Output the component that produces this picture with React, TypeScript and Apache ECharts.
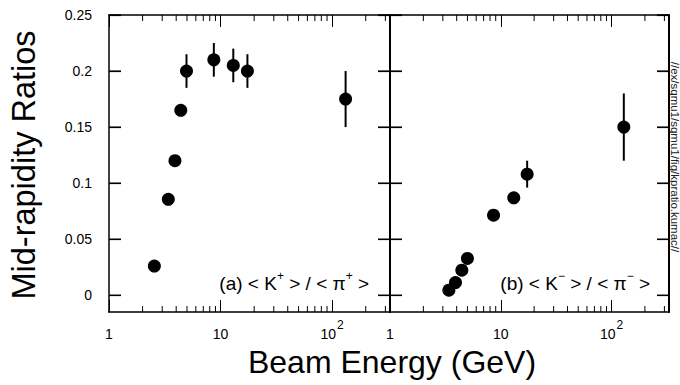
import React, { useEffect, useRef } from "react";
import * as echarts from "echarts";

// Panel (a): K+/pi+
const energyA = [2.55, 3.4, 3.9, 4.4, 4.95, 8.7, 13.0, 17.4, 132];
const ratioA = [0.026, 0.0855, 0.12, 0.165, 0.2, 0.21, 0.205, 0.2, 0.175];
const errA = [0, 0, 0, 0, 0.015, 0.015, 0.015, 0.015, 0.025];

// Panel (b): K-/pi-
const energyB = [3.4, 3.9, 4.45, 5.0, 8.6, 13.1, 17.3, 129];
const ratioB = [0.0045, 0.0113, 0.0223, 0.0328, 0.0714, 0.0869, 0.108, 0.15];
const errB = [0, 0, 0, 0, 0, 0, 0.012, 0.03];

const yTicks = [0, 0.05, 0.1, 0.15, 0.2, 0.25];
const xMinorTicks = [2, 3, 4, 5, 6, 7, 8, 9, 20, 30, 40, 50, 60, 70, 80, 90, 200, 300];
const xLabels = [1, 10, 100];

const X_MIN = 1;
const X_MAX = 330;
const Y_MIN = -0.015;
const Y_MAX = 0.25;

const FONT = "'Liberation Sans', Arial, Helvetica, sans-serif";

export default function App() {
  const ref = useRef<HTMLDivElement>(null);
  useEffect(() => {
    document.body.style.margin = "0";
    const chart = echarts.init(ref.current!, null, { renderer: "svg" });

    const grids = [
      { left: 109, top: 15, width: 281, height: 297 },
      { left: 390, top: 15, width: 280, height: 297 },
    ];

    const xAxes: any[] = [];
    const yAxes: any[] = [];
    [0, 1].forEach((g) => {
      xAxes.push({
        type: "log",
        logBase: 10,
        gridIndex: g,
        position: "bottom",
        min: X_MIN,
        max: X_MAX,
        axisLine: { show: true, onZero: false, lineStyle: { color: "#000", width: 1.5 } },
        axisTick: { show: true, inside: true, length: 12, lineStyle: { color: "#000", width: 1 } },
        splitLine: { show: false },
        axisLabel: {
          show: true,
          margin: 7,
          color: "#000",
          fontFamily: FONT,
          fontSize: 14,
          lineHeight: 30,
          showMaxLabel: false,
          formatter: (v: number) => {
            if (!xLabels.includes(Math.round(v))) return "";
            if (Math.round(v) === 100) return "10{sup|2}";
            return String(Math.round(v));
          },
          rich: {
            sup: { fontSize: 12, lineHeight: 14, fontFamily: FONT, color: "#000", verticalAlign: "top", padding: [0, 0, 0, 1] },
          },
        },
      });
      xAxes.push({
        type: "log",
        logBase: 10,
        gridIndex: g,
        position: "top",
        min: X_MIN,
        max: X_MAX,
        axisLine: { show: true, onZero: false, lineStyle: { color: "#000", width: 1.5 } },
        axisTick: { show: true, inside: true, length: 12, lineStyle: { color: "#000", width: 1 } },
        splitLine: { show: false },
        axisLabel: { show: false },
      });
      yAxes.push({
        type: "value",
        gridIndex: g,
        position: "left",
        min: Y_MIN,
        max: Y_MAX,
        axisLine: { show: true, onZero: false, lineStyle: { color: "#000", width: g === 1 ? 2 : 1.5 } },
        axisTick: { show: true, inside: true, length: 12, customValues: yTicks, lineStyle: { color: "#000", width: 1.2 } },
        splitLine: { show: false },
        axisLabel: {
          show: g === 0,
          customValues: yTicks,
          margin: 17,
          color: "#000",
          fontFamily: FONT,
          fontSize: 14,
        },
      });
      yAxes.push({
        type: "value",
        gridIndex: g,
        position: "right",
        min: Y_MIN,
        max: Y_MAX,
        axisLine: { show: true, onZero: false, lineStyle: { color: "#000", width: 2 } },
        axisTick: { show: true, inside: true, length: 12, customValues: yTicks, lineStyle: { color: "#000", width: 1.2 } },
        splitLine: { show: false },
        axisLabel: { show: true, customValues: yTicks, formatter: () => "" },
      });
    });

    const minorSeries = (g: number) => ({
      type: "custom",
      xAxisIndex: g * 2,
      yAxisIndex: g * 2,
      clip: false,
      silent: true,
      data: xMinorTicks.map((v) => [v, 0]),
      encode: { x: 0, y: 1 },
      renderItem: (params: any, api: any) => {
        const x = api.coord([api.value(0), 0])[0];
        const cs = params.coordSys;
        const yb = cs.y + cs.height;
        return {
          type: "group",
          children: [
            { type: "line", shape: { x1: x, y1: yb, x2: x, y2: yb - 6 }, style: { stroke: "#000", lineWidth: 1 } },
            { type: "line", shape: { x1: x, y1: cs.y, x2: x, y2: cs.y + 6 }, style: { stroke: "#000", lineWidth: 1 } },
          ],
        };
      },
    });

    const yTickSeries = (g: number) => ({
      type: "custom",
      xAxisIndex: g * 2,
      yAxisIndex: g * 2,
      clip: false,
      silent: true,
      data: yTicks.map((v) => [2, v]),
      encode: { x: 0, y: 1 },
      renderItem: (params: any, api: any) => {
        const y = api.coord([2, api.value(1)])[1];
        const cs = params.coordSys;
        const xr = cs.x + cs.width;
        return {
          type: "group",
          children: [
            { type: "line", shape: { x1: cs.x, y1: y, x2: cs.x + 12, y2: y }, style: { stroke: "#000", lineWidth: 1.2 } },
            { type: "line", shape: { x1: xr, y1: y, x2: xr - 12, y2: y }, style: { stroke: "#000", lineWidth: 1.2 } },
          ],
        };
      },
    });

    const errSeries = (g: number, xs: number[], ys: number[], es: number[]) => ({
      type: "custom",
      xAxisIndex: g * 2,
      yAxisIndex: g * 2,
      clip: false,
      silent: true,
      z: 2,
      data: xs.map((x, i) => [x, ys[i], es[i]]),
      encode: { x: 0, y: 1 },
      renderItem: (params: any, api: any) => {
        const x = api.value(0);
        const y = api.value(1);
        const e = api.value(2);
        if (!e) return null;
        const p1 = api.coord([x, y - e]);
        const p2 = api.coord([x, y + e]);
        return {
          type: "line",
          shape: { x1: p1[0], y1: p1[1], x2: p2[0], y2: p2[1] },
          style: { stroke: "#000", lineWidth: 2 },
        };
      },
    });

    const scatterSeries = (g: number, xs: number[], ys: number[]) => ({
      type: "scatter",
      xAxisIndex: g * 2,
      yAxisIndex: g * 2,
      symbol: "circle",
      symbolSize: 13,
      z: 3,
      itemStyle: { color: "#000", opacity: 1 },
      data: xs.map((x, i) => [x, ys[i]]),
    });

    const annStyle = (text: string) => ({
      text,
      fontFamily: FONT,
      fontSize: 19,
      lineHeight: 26,
      fill: "#000",
      align: "right",
      verticalAlign: "middle",
      rich: { sup: { fontSize: 12, lineHeight: 14, fontFamily: FONT, fill: "#000", verticalAlign: "top" } },
    });

    chart.setOption({
      animation: false,
      backgroundColor: "#fff",
      grid: grids,
      xAxis: xAxes,
      yAxis: yAxes,
      series: [
        minorSeries(0),
        minorSeries(1),
        errSeries(0, energyA, ratioA, errA),
        errSeries(1, energyB, ratioB, errB),
        scatterSeries(0, energyA, ratioA),
        scatterSeries(1, energyB, ratioB),
        yTickSeries(0),
        yTickSeries(1),
      ],
      graphic: [
        {
          type: "text",
          x: 24,
          y: 165,
          rotation: Math.PI / 2,
          style: {
            text: "Mid-rapidity Ratios",
            fontFamily: FONT,
            fontSize: 32.5,
            fill: "#000",
            align: "center",
            verticalAlign: "middle",
          },
        },
        {
          type: "text",
          x: 392,
          y: 362,
          style: {
            text: "Beam Energy (GeV)",
            fontFamily: FONT,
            fontSize: 32,
            fill: "#000",
            align: "center",
            verticalAlign: "middle",
          },
        },
        { type: "text", x: 369, y: 283, style: annStyle("(a) < K{sup|+} > / < π{sup|+} >") },
        { type: "text", x: 650, y: 283, style: annStyle("(b) < K{sup|−} > / < π{sup|−} >") },
        {
          type: "text",
          x: 675,
          y: 157,
          rotation: -Math.PI / 2,
          style: {
            text: "//ex/sqmu1/sqmu1/fig/kpratio.kumac//",
            fontFamily: FONT,
            fontSize: 11.5,
            fill: "#222",
            align: "center",
            verticalAlign: "middle",
          },
        },
      ],
    });
    return () => chart.dispose();
  }, []);
  return (
    <div
      ref={ref}
      style={{ position: "fixed", left: 0, top: 0, width: 680, height: 385 }}
    />
  );
}
